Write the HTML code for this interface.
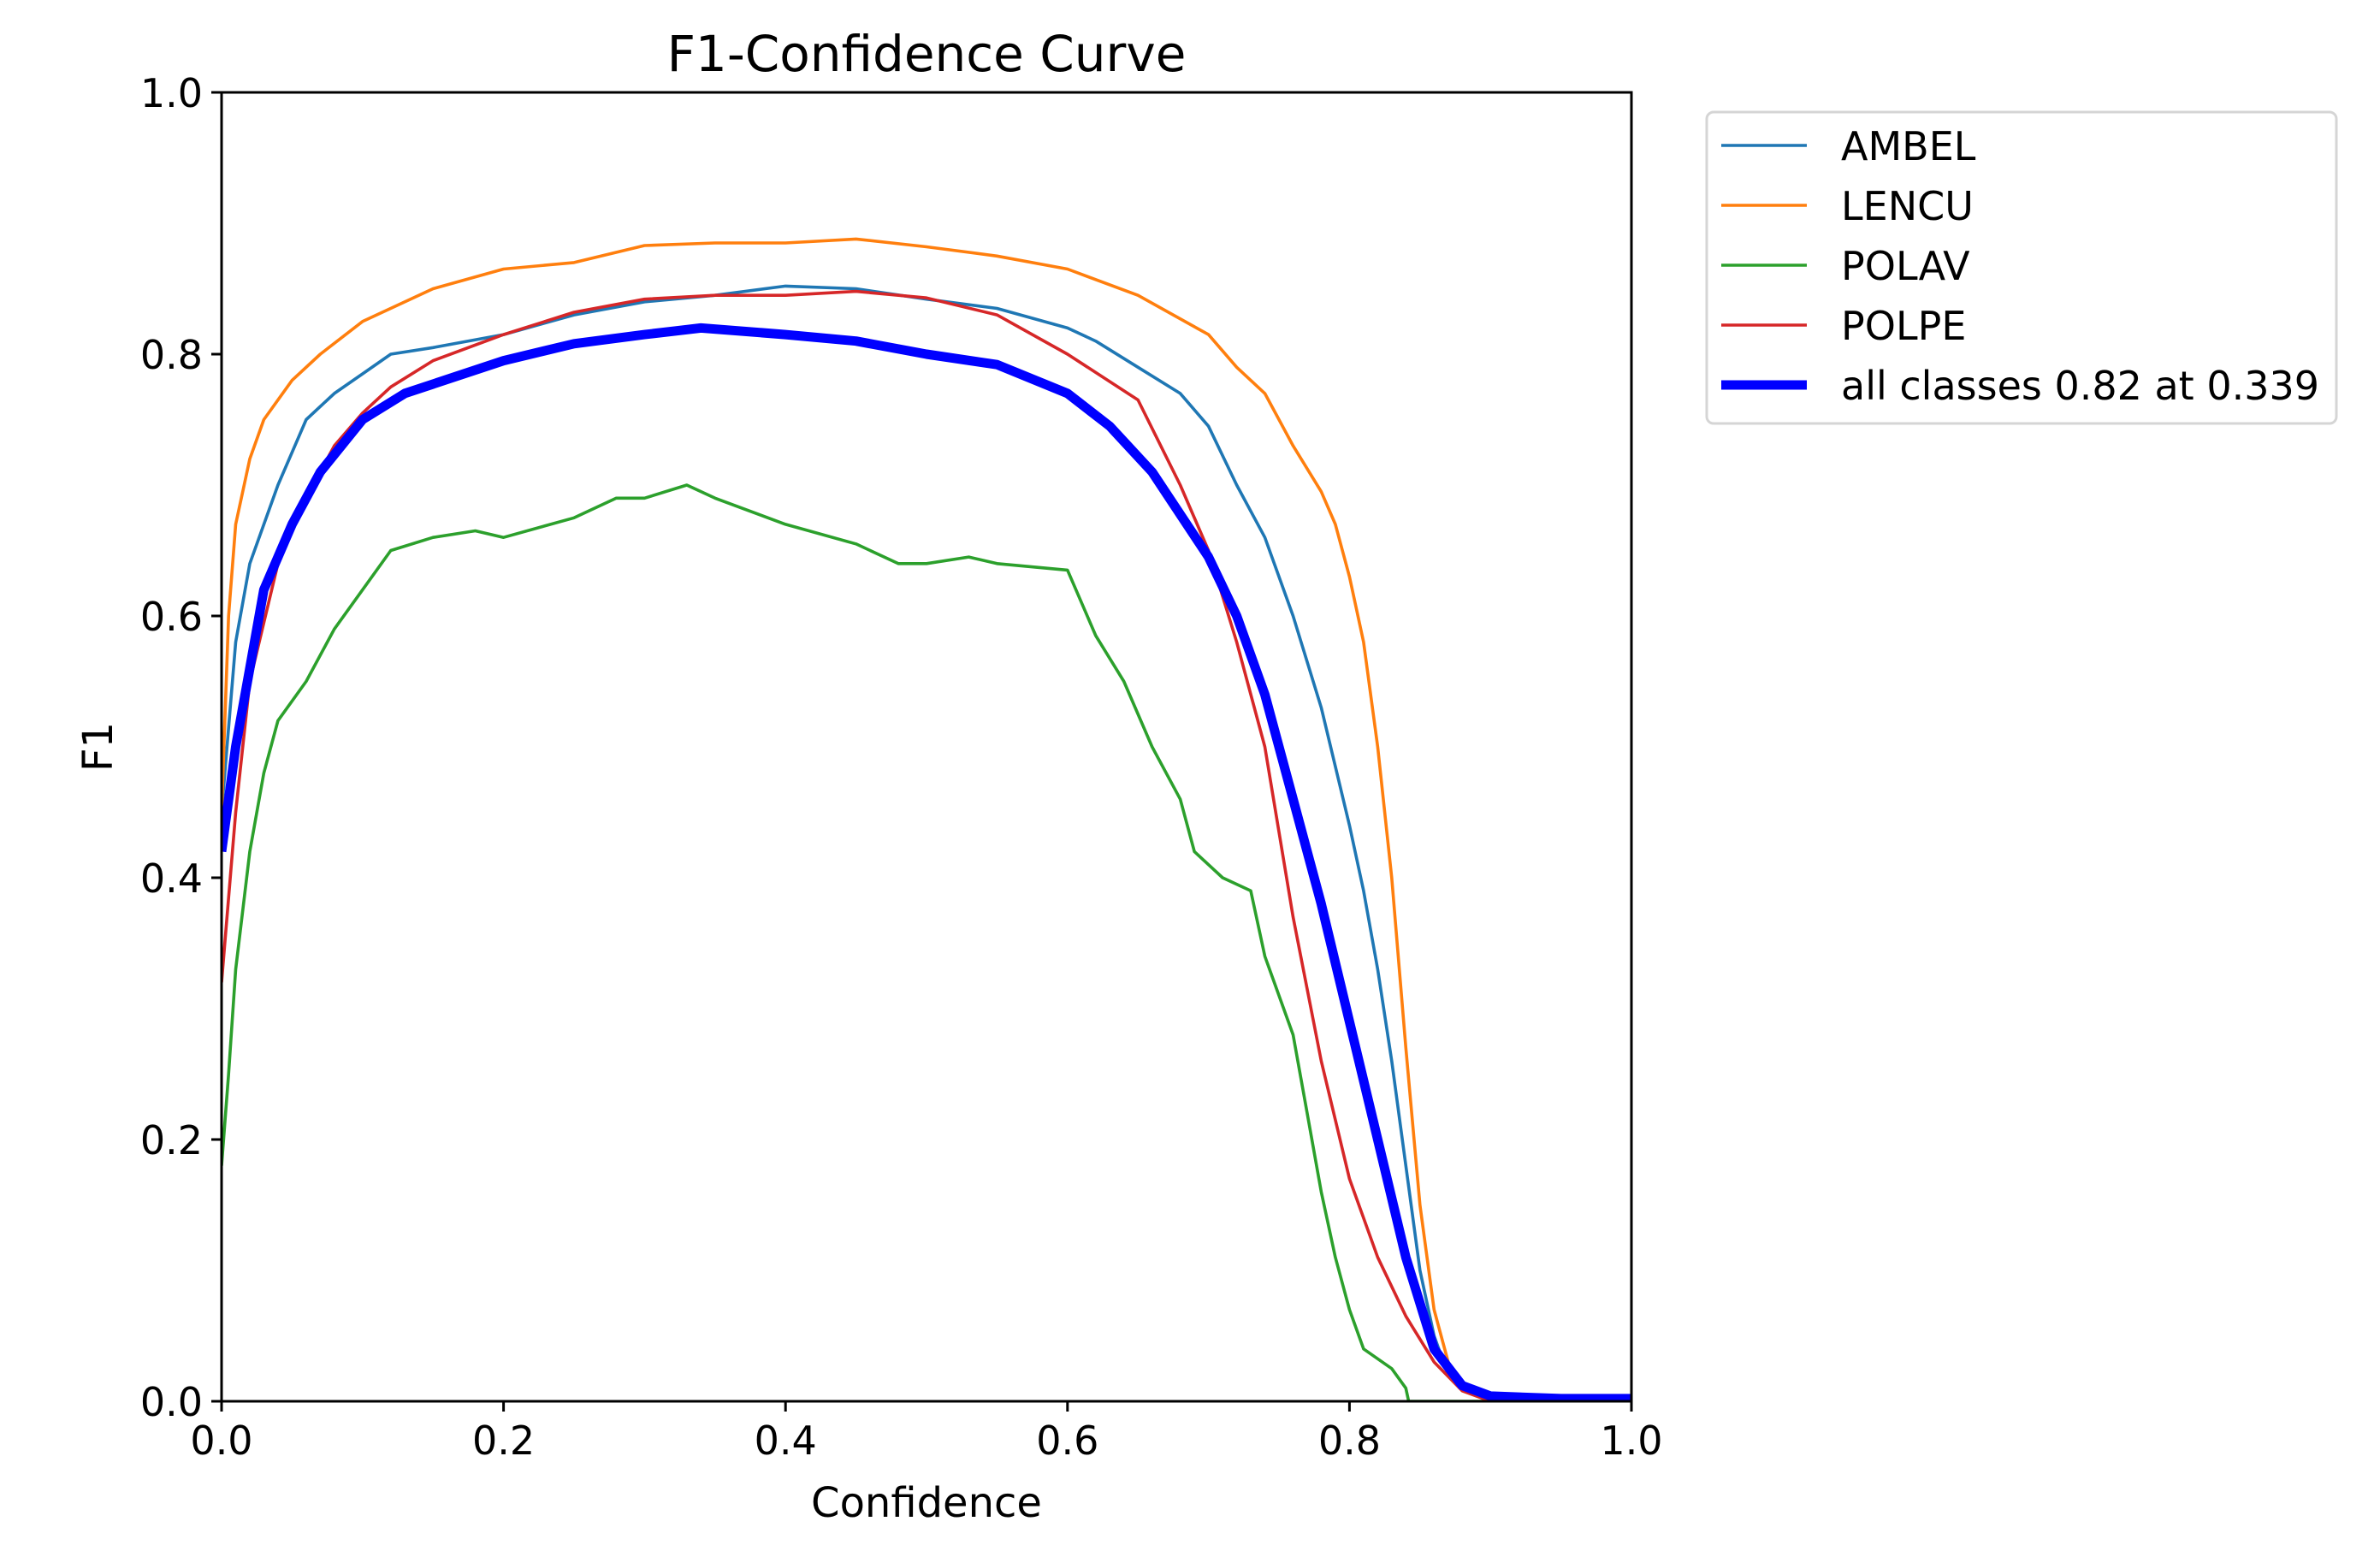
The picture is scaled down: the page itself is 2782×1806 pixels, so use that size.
<!DOCTYPE html>
<html><head><meta charset="utf-8"><style>
html,body{margin:0;padding:0;background:#fff}
svg{display:block}
text{font-family:"DejaVu Sans","Liberation Sans",sans-serif;fill:#000}
</style></head><body>
<svg id="chart" width="2782" height="1806" viewBox="0 0 2782 1806" xmlns="http://www.w3.org/2000/svg">
<rect width="2782" height="1806" fill="#fff"/>
<text x="1083" y="83" font-size="58" text-anchor="middle">F1-Confidence Curve</text>
<g id="plot"></g>
<text x="1083" y="1773" font-size="48" text-anchor="middle">Confidence</text>
<text x="131" y="873" font-size="48" text-anchor="middle" transform="rotate(-90 131 873)">F1</text>
</svg>
<script>
const xTicks = [0, 0.2, 0.4, 0.6, 0.8, 1.0];
const yTicks = [0, 0.2, 0.4, 0.6, 0.8, 1.0];
const tickLabels = ["0.0", "0.2", "0.4", "0.6", "0.8", "1.0"];
const seriesNames = ["AMBEL", "LENCU", "POLAV", "POLPE", "all classes 0.82 at 0.339"];
const seriesColors = ["#1f77b4", "#ff7f0e", "#2ca02c", "#d62728", "#0000ff"];
const ambelX = [0,0.01,0.02,0.04,0.06,0.08,0.1,0.12,0.15,0.2,0.25,0.3,0.35,0.4,0.45,0.5,0.55,0.6,0.62,0.65,0.68,0.7,0.72,0.74,0.76,0.78,0.8,0.81,0.82,0.83,0.84,0.85,0.86,0.87,0.88,0.9,1.0];
const ambelY = [0.45,0.58,0.64,0.70,0.75,0.77,0.785,0.80,0.805,0.815,0.83,0.84,0.845,0.852,0.85,0.842,0.835,0.82,0.81,0.79,0.77,0.745,0.70,0.66,0.60,0.53,0.44,0.39,0.33,0.26,0.18,0.10,0.05,0.02,0.01,0.003,0.0];
const lencuX = [0,0.005,0.01,0.02,0.03,0.05,0.07,0.1,0.15,0.2,0.25,0.3,0.35,0.4,0.45,0.5,0.55,0.6,0.65,0.7,0.72,0.74,0.76,0.78,0.79,0.8,0.81,0.82,0.83,0.84,0.85,0.86,0.87,0.88,0.9,1.0];
const lencuY = [0.45,0.6,0.67,0.72,0.75,0.78,0.80,0.825,0.85,0.865,0.87,0.883,0.885,0.885,0.888,0.882,0.875,0.865,0.845,0.815,0.79,0.77,0.73,0.695,0.67,0.63,0.58,0.50,0.40,0.27,0.15,0.07,0.03,0.01,0.002,0.0];
const polavX = [0,0.005,0.01,0.02,0.03,0.04,0.06,0.08,0.1,0.12,0.15,0.18,0.2,0.25,0.28,0.3,0.33,0.35,0.4,0.45,0.48,0.5,0.53,0.55,0.6,0.61,0.62,0.64,0.66,0.68,0.69,0.71,0.73,0.74,0.76,0.77,0.78,0.79,0.8,0.81,0.83,0.84,0.842,1.0];
const polavY = [0.18,0.25,0.33,0.42,0.48,0.52,0.55,0.59,0.62,0.65,0.66,0.665,0.66,0.675,0.69,0.69,0.70,0.69,0.67,0.655,0.64,0.64,0.645,0.64,0.635,0.61,0.585,0.55,0.50,0.46,0.42,0.40,0.39,0.34,0.28,0.22,0.16,0.11,0.07,0.04,0.025,0.01,0.0,0.0];
const polpeX = [0,0.01,0.02,0.04,0.06,0.08,0.1,0.12,0.15,0.2,0.25,0.3,0.35,0.4,0.45,0.5,0.55,0.6,0.65,0.68,0.7,0.72,0.74,0.76,0.78,0.8,0.82,0.84,0.86,0.88,0.9,1.0];
const polpeY = [0.32,0.45,0.55,0.64,0.69,0.73,0.755,0.775,0.795,0.815,0.832,0.842,0.845,0.845,0.848,0.843,0.83,0.80,0.765,0.70,0.65,0.58,0.50,0.37,0.26,0.17,0.11,0.065,0.03,0.008,0.0,0.0];
const allX = [0,0.01,0.02,0.03,0.05,0.07,0.1,0.13,0.2,0.25,0.3,0.34,0.4,0.45,0.5,0.55,0.6,0.63,0.66,0.7,0.72,0.74,0.76,0.78,0.8,0.82,0.84,0.86,0.88,0.9,0.95,1.0];
const allY = [0.42,0.50,0.56,0.62,0.67,0.71,0.75,0.77,0.795,0.808,0.815,0.82,0.815,0.81,0.80,0.792,0.77,0.745,0.71,0.645,0.60,0.54,0.46,0.38,0.29,0.20,0.11,0.04,0.012,0.004,0.002,0.002];

const L = 259, R = 1907, T = 108, B = 1638;
const sx = v => L + v * (R - L);
const sy = v => B - v * (B - T);
const NS = "http://www.w3.org/2000/svg";
const plot = document.getElementById('plot');
function mk(tag, attrs, parent) {
  const e = document.createElementNS(NS, tag);
  for (const k in attrs) e.setAttribute(k, attrs[k]);
  (parent || plot).appendChild(e);
  return e;
}
const clip = mk('clipPath', {id: 'clip'});
mk('rect', {x: L, y: T - 10, width: R - L, height: B - T + 10}, clip);

const xs = [ambelX, lencuX, polavX, polpeX, allX];
const ys = [ambelY, lencuY, polavY, polpeY, allY];
const keys = ['ambel', 'lencu', 'polav', 'polpe', 'all-classes'];
for (let i = 0; i < 5; i++) {
  const d = xs[i].map((x, j) => (j ? 'L' : 'M') + sx(x).toFixed(1) + ' ' + sy(ys[i][j]).toFixed(1)).join(' ');
  const p = mk('path', {d: d, fill: 'none', stroke: seriesColors[i], 'stroke-width': i === 4 ? 11 : 3.6, 'stroke-linejoin': 'round', 'clip-path': 'url(#clip)'});
  
  
}
const frame = mk('rect', {x: L, y: T, width: R - L, height: B - T, fill: 'none', stroke: '#000', 'stroke-width': 3});



for (let i = 0; i < xTicks.length; i++) {
  const x = sx(xTicks[i]);
  const tk = mk('line', {x1: x, y1: B, x2: x, y2: B + 12, stroke: '#000', 'stroke-width': 3});
  
  
  const t = mk('text', {x: x, y: B + 62, 'font-size': 46, 'text-anchor': 'middle'});
  t.textContent = tickLabels[i];
  
  
}
for (let i = 0; i < yTicks.length; i++) {
  const y = sy(yTicks[i]);
  const tk = mk('line', {x1: L - 12, y1: y, x2: L, y2: y, stroke: '#000', 'stroke-width': 3});
  
  
  const t = mk('text', {x: L - 22, y: y + 17, 'font-size': 46, 'text-anchor': 'end'});
  t.textContent = tickLabels[i];
  
  
}

const lg = mk('g', {});


mk('rect', {x: 1995, y: 131, width: 736, height: 364, rx: 8, fill: '#fff', stroke: '#d5d5d5', 'stroke-width': 3}, lg);
const rowY = [170, 240, 310, 380, 450];
for (let i = 0; i < 5; i++) {
  const ent = mk('g', {}, lg);
  
  
  mk('line', {x1: 2012, y1: rowY[i], x2: 2112, y2: rowY[i], stroke: seriesColors[i], 'stroke-width': i === 4 ? 11 : 3.6}, ent);
  const t = mk('text', {x: 2152, y: rowY[i] + 17, 'font-size': 46}, ent);
  t.textContent = seriesNames[i];
}
</script>
</body></html>
